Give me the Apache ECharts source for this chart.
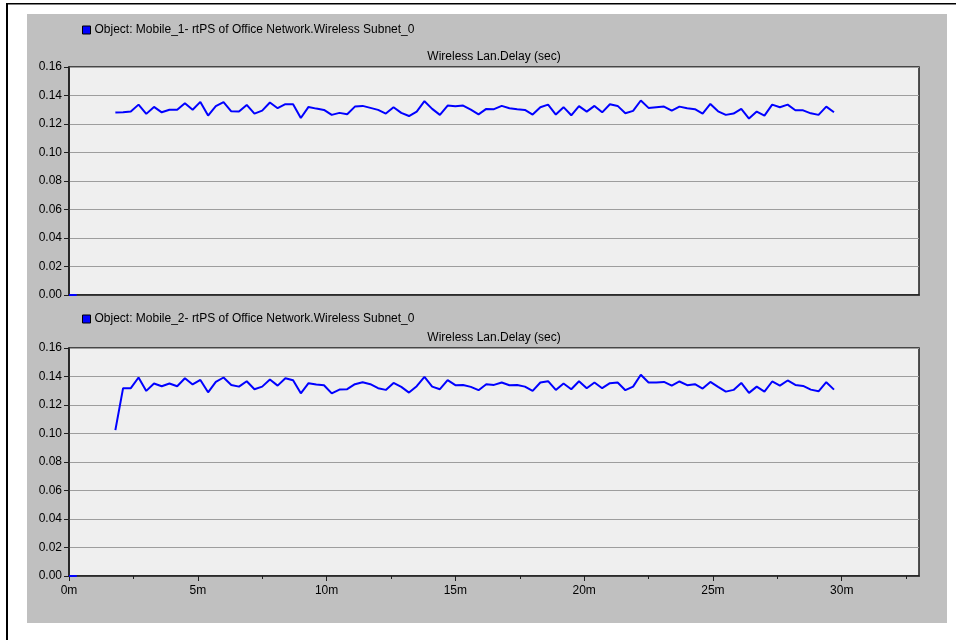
<!DOCTYPE html>
<html>
<head>
<meta charset="utf-8">
<script src="https://cdn.jsdelivr.net/npm/echarts@6/dist/echarts.min.js"></script>
<style>
html,body{margin:0;padding:0;background:#fff;}
#chart{width:956px;height:640px;}
</style>
</head>
<body>
<div id="chart"></div>
<script>
// ---------- data ----------
const seriesNames = [
  'Object: Mobile_1- rtPS of Office Network.Wireless Subnet_0',
  'Object: Mobile_2- rtPS of Office Network.Wireless Subnet_0'
];
const panelTitles = ['Wireless Lan.Delay (sec)', 'Wireless Lan.Delay (sec)'];

// startup samples (minutes, sec)
const startupTimes = [0, 0.3];
const startupValues = [0, 0];

// regular samples: first at 1.8 min, every 0.3 min
const sampleStartMin = 1.8;
const sampleStepMin = 0.3;

const mobile1Delay = [
  0.1280, 0.1283, 0.1287, 0.1336, 0.1271, 0.1320, 0.1282, 0.1300, 0.1300, 0.1346,
  0.1300, 0.1355, 0.1259, 0.1325, 0.1353, 0.1289, 0.1287, 0.1334, 0.1273, 0.1294,
  0.1351, 0.1311, 0.1339, 0.1339, 0.1242, 0.1320, 0.1308, 0.1299, 0.1264, 0.1278,
  0.1268, 0.1322, 0.1327, 0.1313, 0.1299, 0.1273, 0.1318, 0.1278, 0.1256, 0.1287,
  0.1360, 0.1306, 0.1264, 0.1329, 0.1325, 0.1329, 0.1301, 0.1268, 0.1306, 0.1304,
  0.1327, 0.1311, 0.1304, 0.1299, 0.1266, 0.1318, 0.1336, 0.1266, 0.1318, 0.1261,
  0.1325, 0.1287, 0.1327, 0.1282, 0.1339, 0.1327, 0.1275, 0.1292, 0.1365, 0.1313,
  0.1318, 0.1322, 0.1294, 0.1322, 0.1311, 0.1304, 0.1273, 0.1341, 0.1289, 0.1264,
  0.1273, 0.1306, 0.1238, 0.1287, 0.1259, 0.1336, 0.1318, 0.1336, 0.1296, 0.1296,
  0.1275, 0.1264, 0.1322, 0.1282
];

const mobile2Delay = [
  0.1024, 0.1318, 0.1318, 0.1393, 0.1299, 0.1351, 0.1332, 0.1351, 0.1332, 0.1388,
  0.1344, 0.1376, 0.1289, 0.1362, 0.1393, 0.1341, 0.1329, 0.1367, 0.1311, 0.1329,
  0.1379, 0.1336, 0.1388, 0.1374, 0.1282, 0.1353, 0.1344, 0.1339, 0.1282, 0.1308,
  0.1311, 0.1346, 0.1360, 0.1346, 0.1318, 0.1306, 0.1355, 0.1327, 0.1287, 0.1332,
  0.1398, 0.1329, 0.1311, 0.1374, 0.1339, 0.1341, 0.1327, 0.1304, 0.1346, 0.1341,
  0.1358, 0.1339, 0.1341, 0.1329, 0.1299, 0.1358, 0.1367, 0.1306, 0.1351, 0.1311,
  0.1367, 0.1318, 0.1358, 0.1318, 0.1353, 0.1358, 0.1304, 0.1329, 0.1412, 0.1358,
  0.1358, 0.1362, 0.1336, 0.1365, 0.1339, 0.1346, 0.1315, 0.1362, 0.1327, 0.1294,
  0.1306, 0.1355, 0.1285, 0.1329, 0.1294, 0.1365, 0.1336, 0.1372, 0.1341, 0.1334,
  0.1308, 0.1296, 0.1360, 0.1308
];

const xMajorTicks = [0, 5, 10, 15, 20, 25, 30];
const xMinorTicks = [2.5, 7.5, 12.5, 17.5, 22.5, 27.5, 32.5];
const xMin = 0, xMax = 33;
const yMin = 0, yMax = 0.16, yStep = 0.02;

// ---------- build ----------
function buildData(values) {
  const out = [];
  for (let i = 0; i < startupTimes.length; i++) out.push([startupTimes[i], startupValues[i]]);
  out.push([startupTimes[startupTimes.length - 1] + 0.01, null]);
  for (let i = 0; i < values.length; i++) {
    const t = +(sampleStartMin + i * sampleStepMin).toFixed(2);
    out.push([t, values[i]]);
  }
  return out;
}

const FONT = 'Liberation Sans';
const frameColor = '#1e1e1e';

function yAxisCfg(gridIndex) {
  return {
    type: 'value', gridIndex, min: yMin, max: yMax, interval: yStep,
    axisLine: { show: true, lineStyle: { color: frameColor, width: 1.5 } },
    axisTick: { show: true, length: 5, lineStyle: { color: frameColor, width: 1 } },
    axisLabel: { color: '#000', fontSize: 12, fontFamily: FONT, margin: 7,
      formatter: v => v.toFixed(2) },
    splitLine: { show: true, lineStyle: { color: '#9d9d9d', width: 1 } }
  };
}

const chart = echarts.init(document.getElementById('chart'), null, { renderer: 'canvas' });
const option = {
  animation: false,
  backgroundColor: '#ffffff',
  textStyle: { fontFamily: FONT },
  graphic: [
    { type: 'rect', z: -10, silent: true, shape: { x: 27, y: 14, width: 920, height: 609 }, style: { fill: '#c0c0c0' } },
    { type: 'rect', z: -10, silent: true, shape: { x: 6, y: 3, width: 2, height: 637 }, style: { fill: '#000' } },
    { type: 'rect', z: -10, silent: true, shape: { x: 6, y: 3, width: 950, height: 1.5 }, style: { fill: '#000' } }
  ],
  title: [
    { text: panelTitles[0], left: 494, top: 51, textAlign: 'center', padding: 0,
      textStyle: { fontSize: 12, fontWeight: 'normal', color: '#000', fontFamily: FONT } },
    { text: panelTitles[1], left: 494, top: 332, textAlign: 'center', padding: 0,
      textStyle: { fontSize: 12, fontWeight: 'normal', color: '#000', fontFamily: FONT } }
  ],
  legend: [
    { data: [seriesNames[0]], left: 82, top: 24, padding: 0, icon: 'rect', itemWidth: 8, itemHeight: 8, itemGap: 4,
      itemStyle: { borderColor: '#000', borderWidth: 1 },
      textStyle: { fontSize: 12, color: '#000', fontFamily: FONT, padding: [0, 0, 0, -1] } },
    { data: [seriesNames[1]], left: 82, top: 313, padding: 0, icon: 'rect', itemWidth: 8, itemHeight: 8, itemGap: 4,
      itemStyle: { borderColor: '#000', borderWidth: 1 },
      textStyle: { fontSize: 12, color: '#000', fontFamily: FONT, padding: [0, 0, 0, -1] } }
  ],
  grid: [
    { left: 69, top: 67, width: 850, height: 228, show: true, backgroundColor: '#efefef',
      borderColor: frameColor, borderWidth: 1.5, containLabel: false },
    { left: 69, top: 348, width: 850, height: 228, show: true, backgroundColor: '#efefef',
      borderColor: frameColor, borderWidth: 1.5, containLabel: false }
  ],
  xAxis: [
    { type: 'value', gridIndex: 0, min: xMin, max: xMax,
      axisLine: { show: true, onZero: false, lineStyle: { color: frameColor, width: 1.5 } },
      axisTick: { show: false }, axisLabel: { show: false }, splitLine: { show: false } },
    { type: 'value', gridIndex: 1, min: xMin, max: xMax,
      axisLine: { show: true, onZero: false, lineStyle: { color: frameColor, width: 1.5 } },
      axisTick: { show: true, length: 5, customValues: xMajorTicks, lineStyle: { color: frameColor, width: 1 } },
      axisLabel: { show: true, customValues: xMajorTicks, color: '#000', fontSize: 12, fontFamily: FONT, margin: 9,
        formatter: v => v + 'm' },
      splitLine: { show: false } },
    { type: 'value', gridIndex: 1, min: xMin, max: xMax, position: 'bottom',
      axisLine: { show: false, onZero: false },
      axisTick: { show: true, length: 3, customValues: xMinorTicks, lineStyle: { color: frameColor, width: 1 } },
      axisLabel: { show: false }, splitLine: { show: false } }
  ],
  yAxis: [yAxisCfg(0), yAxisCfg(1)],
  series: [
    { name: seriesNames[0], type: 'line', xAxisIndex: 0, yAxisIndex: 0, data: buildData(mobile1Delay),
      symbol: 'none', connectNulls: false, color: '#0000ff',
      lineStyle: { color: '#0000ff', width: 2 }, itemStyle: { color: '#0000ff' } },
    { name: seriesNames[1], type: 'line', xAxisIndex: 1, yAxisIndex: 1, data: buildData(mobile2Delay),
      symbol: 'none', connectNulls: false, color: '#0000ff',
      lineStyle: { color: '#0000ff', width: 2 }, itemStyle: { color: '#0000ff' } }
  ]
};
chart.setOption(option);
</script>
</body>
</html>
